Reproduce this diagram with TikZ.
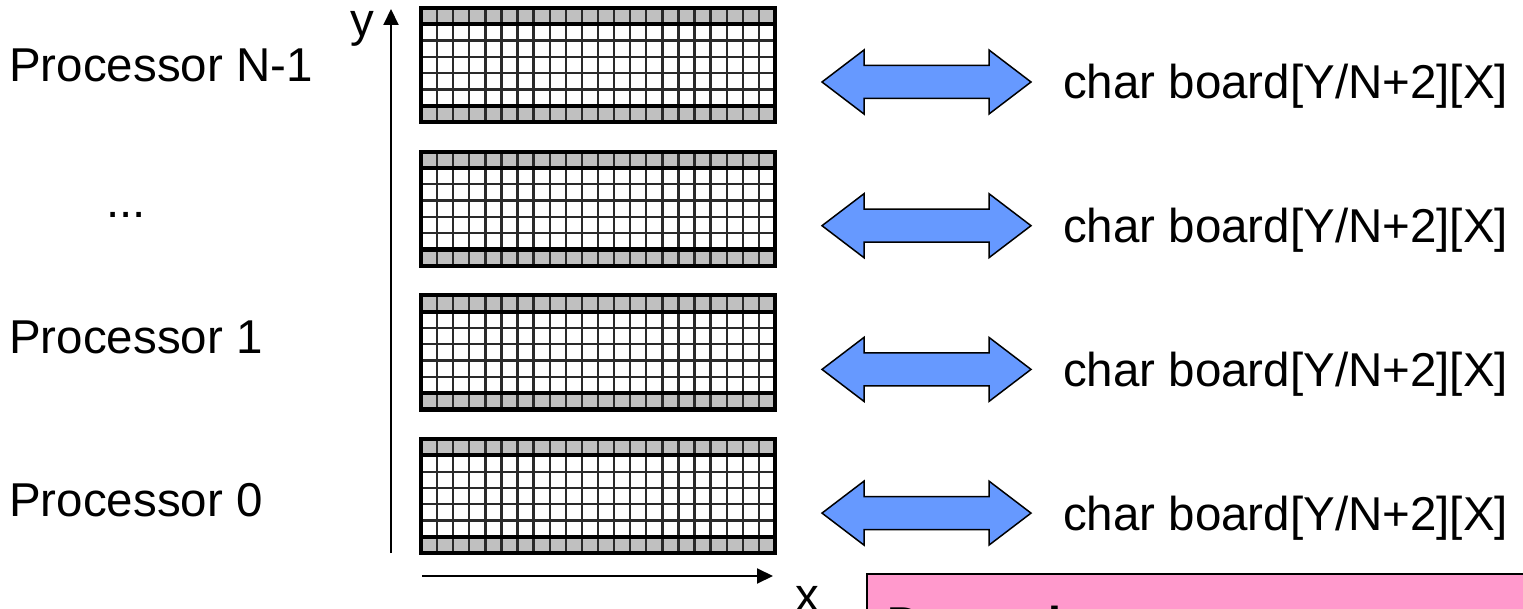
\documentclass[tikz,border=0pt]{standalone}
\usepackage{fontspec}
\setmainfont{Liberation Sans}
\usetikzlibrary{arrows.meta}
\definecolor{cellgray}{HTML}{C0C0C0}
\definecolor{arrowblue}{HTML}{6699FF}
\definecolor{notepink}{HTML}{FF99CC}
\definecolor{gridline}{HTML}{2A2A2A}
\tikzset{
  lbl/.style={inner sep=0pt, anchor=base west, font=\fontsize{47.5}{56}\selectfont},
  axisline/.style={line width=2pt, -{Triangle[length=16pt,width=15pt]}},
  dblarrow/.style={fill=arrowblue, draw=black, line width=1.5pt, line join=miter},
  thingrid/.style={draw=gridline, line width=2.3pt},
  thickgrid/.style={draw=black, line width=4.2pt},
  notebox/.style={fill=notepink, draw=black, line width=2pt},
}
\begin{document}
\begin{tikzpicture}[x=1pt,y=-1pt]
\useasboundingbox (0,0) rectangle (1523,609);
\clip (0,0) rectangle (1523,609);
% grids
\foreach \t in {8,151.7,295.4,439.1} {
  \fill[cellgray] (421,\t) rectangle (775,\t+16.3);
  \fill[cellgray] (421,\t+97.7) rectangle (775,\t+114);
  \foreach \k in {1,...,21} {
    \draw[thingrid] ({421+\k*16.0909},\t) -- ({421+\k*16.0909},\t+114);
  }
  \foreach \j in {2,...,5} {
    \draw[thingrid] (421,\t+\j*16.286) -- (775,\t+\j*16.286);
  }
  \draw[thickgrid] (421,\t+16.29) -- (775,\t+16.29);
  \draw[thickgrid] (421,\t+97.71) -- (775,\t+97.71);
  \draw[thickgrid] (421,\t) rectangle (775,\t+114);
}
% double arrows
\foreach \c in {82,225.7,369.4,513.1} {
  \draw[dblarrow] (822,\c) -- (864,\c-32) -- (864,\c-16.5) -- (989,\c-16.5) -- (989,\c-32)
    -- (1031,\c) -- (989,\c+32) -- (989,\c+16.5) -- (864,\c+16.5) -- (864,\c+32) -- cycle;
}
% axes
\coordinate (yorig) at (391,553);
\coordinate (ytip) at (391,9);
\coordinate (xorig) at (422,576);
\coordinate (xtip) at (773,576);
\draw[axisline] (yorig) -- (ytip);
\draw[axisline] (xorig) -- (xtip);
\node[lbl, anchor=base east] (ylab) at (374,37) {y};
\node[lbl] (xlab) at (795,611) {x};
% processor labels
\node[lbl] (pN) at (9,82) {Processor N-1};
\node[lbl] (pdots) at (106,218) {...};
\node[lbl] (p1) at (9,354) {Processor 1};
\node[lbl] (p0) at (9,516) {Processor 0};
% board labels
\node[lbl] (b3) at (1063,99) {char board[Y/N+2][X]};
\node[lbl] (b2) at (1063,242.7) {char board[Y/N+2][X]};
\node[lbl] (b1) at (1063,386.4) {char board[Y/N+2][X]};
\node[lbl] (b0) at (1063,530.1) {char board[Y/N+2][X]};
% note box
\draw[notebox] (867,574) rectangle (1560,680);
\node[lbl, font=\fontsize{47.5}{56}\selectfont\bfseries] (note) at (887,640) {Dependent};
\end{tikzpicture}
\end{document}
